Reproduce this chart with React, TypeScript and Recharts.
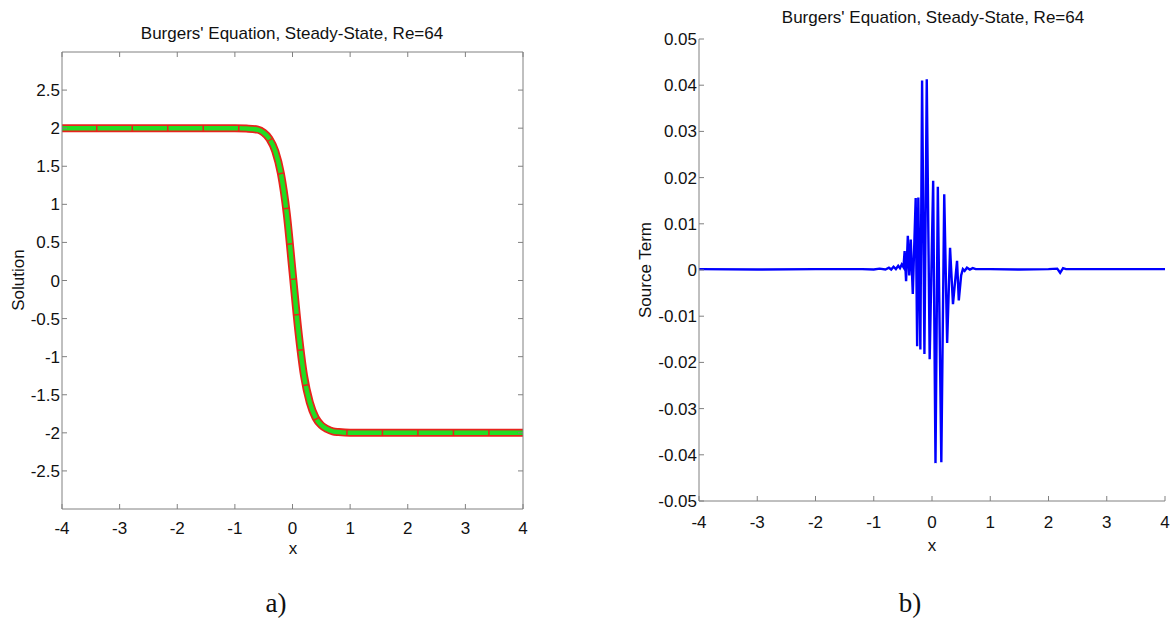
import { Line, LineChart, XAxis, YAxis } from "recharts";
import type { CSSProperties, ReactNode } from "react";

const chartTitle = "Burgers' Equation, Steady-State, Re=64";

const xTicks = [-4, -3, -2, -1, 0, 1, 2, 3, 4];
const solutionTicks = [-2.5, -2, -1.5, -1, -0.5, 0, 0.5, 1, 1.5, 2, 2.5];
const sourceTicks = [-0.05, -0.04, -0.03, -0.02, -0.01, 0, 0.01, 0.02, 0.03, 0.04, 0.05];

// panel a) steady-state solution u(x)
const solutionX = [-4, -3, -2, -1, -0.8, -0.6, -0.5, -0.4, -0.3, -0.2, -0.1, 0, 0.1, 0.2, 0.3, 0.4, 0.5, 0.6, 0.7, 0.8, 1, 2, 3, 4];
const solutionU = [2, 2, 2, 2, 1.995, 1.98, 1.94, 1.86, 1.7, 1.4, 0.88, 0.12, -0.65, -1.25, -1.6, -1.8, -1.9, -1.95, -1.98, -1.99, -2, -2, -2, -2];

// panel b) source term
const sourceX = [
  -4, -3, -2, -1.2, -1, -0.9, -0.8, -0.74, -0.7, -0.66, -0.62, -0.58, -0.55, -0.52, -0.49,
  -0.47, -0.445, -0.415, -0.39, -0.365, -0.33, -0.28, -0.255, -0.235, -0.2, -0.17, -0.13,
  -0.09, -0.04, 0.02, 0.06, 0.1, 0.16, 0.21, 0.26, 0.31, 0.36, 0.43, 0.46, 0.5, 0.53, 0.56,
  0.6, 0.65, 0.7, 0.75, 0.85, 1, 1.5, 2, 2.15, 2.2, 2.25, 2.3, 2.5, 3, 4,
];
const sourceS = [
  0.0002, 0.0001, 0.0002, 0.0002, 0.0001, 0.0003, 0.0001, 0.0005, 0.0001, 0.0007, 0.0002, 0.0009, 0.0004, 0.0012, 0.0006,
  0.0041, -0.0024, 0.0074, -0.0012, 0.0066, -0.0052, 0.0156, -0.0165, 0.0157, -0.0172, 0.041, -0.0182,
  0.0413, -0.0193, 0.0193, -0.0418, 0.018, -0.0416, 0.0164, -0.0158, 0.0048, -0.0074, 0.002, -0.0066, -0.0012, 0.0002, -0.0002,
  0.0005, 0.0001, 0.0004, 0.0002, 0.0002, 0.0002, 0.0001, 0.0002, 0.0003, -0.0006, 0.0004, 0.0002, 0.0002, 0.0002, 0.0002,
];

const solutionData = solutionX.map((x, i) => ({ x, u: solutionU[i] }));
const sourceData = sourceX.map((x, i) => ({ x, s: sourceS[i] }));

const font = "'Liberation Sans', Arial, Helvetica, sans-serif";
const axisGrey = "#808080";
const tickStyle = { fill: "#111111", fontSize: 17, fontFamily: font };

function Text({ x, y, children, rotate, style }: { x: number; y: number; children: ReactNode; rotate?: boolean; style?: CSSProperties }) {
  return (
    <div
      style={{
        position: "absolute",
        left: x,
        top: y,
        transform: `translate(-50%, -50%)${rotate ? " rotate(-90deg)" : ""}`,
        whiteSpace: "nowrap",
        lineHeight: 1,
        fontFamily: font,
        fontSize: 17,
        color: "#111111",
        ...style,
      }}
    >
      {children}
    </div>
  );
}

function SolutionChart() {
  return (
    <LineChart
      width={560}
      height={560}
      data={solutionData}
      margin={{ top: 51, right: 36, bottom: 21, left: 7 }}
    >
      <XAxis
        xAxisId="bottom"
        dataKey="x"
        type="number"
        domain={[-4, 4]}
        ticks={xTicks}
        interval={0}
        allowDataOverflow
        height={30}
        tickSize={-5}
        tickMargin={18}
        axisLine={{ stroke: axisGrey }}
        tickLine={{ stroke: axisGrey }}
        tick={tickStyle}
      />
      {/* mirrored box edges, as in the matlab figure */}
      <XAxis
        xAxisId="top"
        orientation="top"
        dataKey="x"
        type="number"
        domain={[-4, 4]}
        ticks={xTicks}
        interval={0}
        allowDataOverflow
        height={1}
        tickSize={-5}
        axisLine={{ stroke: axisGrey }}
        tickLine={{ stroke: axisGrey }}
        tickFormatter={() => ""}
      />
      <YAxis
        yAxisId="left"
        type="number"
        domain={[-3, 3]}
        ticks={solutionTicks}
        interval={0}
        allowDataOverflow
        width={55}
        tickSize={-5}
        tickMargin={7}
        axisLine={{ stroke: axisGrey }}
        tickLine={{ stroke: axisGrey }}
        tick={tickStyle}
      />
      <YAxis
        yAxisId="right"
        orientation="right"
        type="number"
        domain={[-3, 3]}
        ticks={solutionTicks}
        interval={0}
        allowDataOverflow
        width={1}
        tickSize={-5}
        axisLine={{ stroke: axisGrey }}
        tickLine={{ stroke: axisGrey }}
        tickFormatter={() => ""}
      />
      <Line
        xAxisId="bottom"
        yAxisId="left"
        type="monotone"
        dataKey="u"
        stroke="#e8231c"
        strokeWidth={8}
        dot={false}
        isAnimationActive={false}
      />
      <Line
        xAxisId="bottom"
        yAxisId="left"
        type="monotone"
        dataKey="u"
        stroke="#22dd22"
        strokeWidth={4.5}
        strokeDasharray="34 1.5"
        dot={false}
        isAnimationActive={false}
      />
    </LineChart>
  );
}

function SourceChart() {
  return (
    <LineChart
      width={576}
      height={560}
      data={sourceData}
      margin={{ top: 39, right: 11, bottom: 29, left: 39 }}
    >
      <XAxis
        dataKey="x"
        type="number"
        domain={[-4, 4]}
        ticks={xTicks}
        interval={0}
        allowDataOverflow
        height={30}
        tickSize={-5}
        tickMargin={20}
        axisLine={{ stroke: axisGrey }}
        tickLine={{ stroke: axisGrey }}
        tick={tickStyle}
      />
      <YAxis
        type="number"
        domain={[-0.05, 0.05]}
        ticks={sourceTicks}
        interval={0}
        allowDataOverflow
        width={60}
        tickSize={-5}
        tickMargin={7}
        axisLine={{ stroke: axisGrey }}
        tickLine={{ stroke: axisGrey }}
        tick={tickStyle}
        tickFormatter={(v: number) => (v === 0 ? "0" : v.toFixed(2))}
      />
      <Line
        type="linear"
        dataKey="s"
        stroke="#0000ff"
        strokeWidth={2.4}
        dot={false}
        isAnimationActive={false}
      />
    </LineChart>
  );
}

export default function App() {
  return (
    <div
      style={{
        position: "absolute",
        left: 0,
        top: 0,
        width: 1176,
        height: 621,
        background: "#ffffff",
        overflow: "hidden",
      }}
    >
      <div style={{ position: "absolute", left: 0, top: 0 }}>
        <SolutionChart />
      </div>
      <div style={{ position: "absolute", left: 600, top: 0 }}>
        <SourceChart />
      </div>

      <Text x={292} y={33}>{chartTitle}</Text>
      <Text x={18} y={280} rotate>Solution</Text>
      <Text x={293} y={548}>x</Text>
      <Text x={276} y={603} style={{ fontFamily: "'Liberation Serif', 'Times New Roman', serif", fontSize: 27 }}>a)</Text>

      <Text x={933} y={17}>{chartTitle}</Text>
      <Text x={645} y={270} rotate>Source Term</Text>
      <Text x={932} y={545}>x</Text>
      <Text x={910} y={603} style={{ fontFamily: "'Liberation Serif', 'Times New Roman', serif", fontSize: 27 }}>b)</Text>
    </div>
  );
}
